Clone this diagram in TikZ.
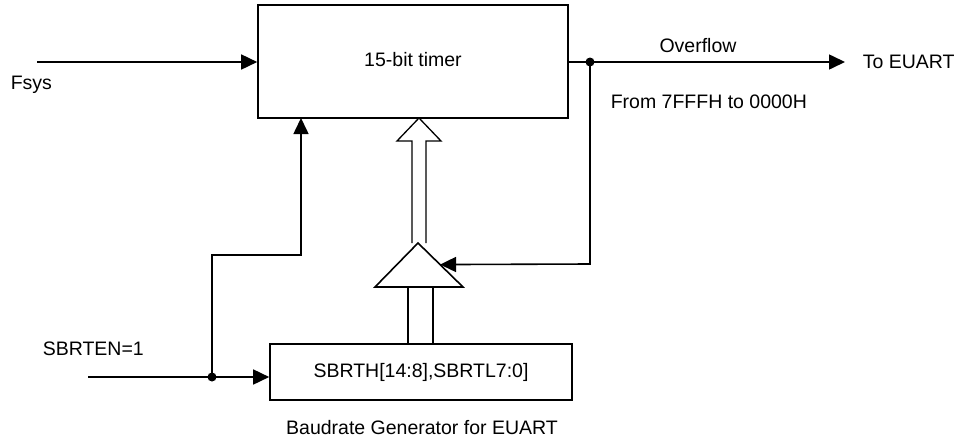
\documentclass[tikz,border=0pt]{standalone}
\usepackage{fontspec}
\setmainfont{Liberation Sans}
\usetikzlibrary{arrows.meta,calc}
\begin{document}
\begin{tikzpicture}[x=1pt,y=-1pt,line width=1.6pt,
  every node/.style={font=\fontsize{19.5}{21}\selectfont,inner sep=0pt},
  blk/.style={draw,rectangle,line width=1.6pt},
  arr/.style={-{Triangle[length=16pt,width=15pt]}},
  jdot/.style={circle,fill=black,minimum size=9pt,inner sep=0pt}]
\useasboundingbox (0,0) rectangle (961,442);
% blocks
\node[blk,minimum width=310pt,minimum height=113pt] (timer) at (413,61.5) {};
\node (timertxt) at (413,60) {15-bit timer};
\node[blk,minimum width=302pt,minimum height=56pt] (sbr) at (421,372) {SBRTH[14:8],SBRTL7:0]};
% labels
\node[anchor=west] (fsys) at (10,85) {Fsys};
\node[anchor=west] (sbrten) at (42,349) {SBRTEN=1};
\node (ovf) at (698,46) {Overflow};
\node[anchor=west] (toe) at (862,62) {To EUART};
\node[anchor=west] (from) at (610,102) {From 7FFFH to 0000H};
\node (baud) at (422,428) {Baudrate Generator for EUART};
% coordinates
\coordinate (fsysin) at (37,62);
\coordinate (ovend) at (845,62);
\coordinate (sbrin) at (88,377);
\coordinate (apex) at (418,243);
\coordinate (bl) at (375,287);
\coordinate (br) at (463,287);
\coordinate (fbin) at ($(apex)!0.49!(br)$);
\coordinate (fbcorner) at (590,264);
\coordinate (enA) at (212,255);
\coordinate (enB) at (301,255);
\coordinate (enC) at (301,118);
% junction dots
\node[jdot] (dovf) at (590,62) {};
\node[jdot] (den) at (212,377) {};
% triangle
\draw[line join=miter] (apex) -- (br) -- (bl) -- cycle;
% hollow arrow
\draw[line width=1.3pt,line join=miter] (412,243) -- (412,141) -- (397,141) -- (419,118) -- (441,141) -- (426,141) -- (426,243);
% bus lines from register to triangle
\draw (408,344) -- (408,287);
\draw (433,344) -- (433,287);
% connectors
\draw[arr] (fsysin) -- (timer.west |- fsysin);
\draw[arr] (timer.east |- ovend) -- (ovend);
\draw[arr] (dovf.center) |- (fbcorner) -- (fbin);
\draw[arr] (sbrin) -- (sbrin -| sbr.west);
\draw[arr] (den.center) |- (enA) -- (enB) -- (enC);
\end{tikzpicture}
\end{document}
